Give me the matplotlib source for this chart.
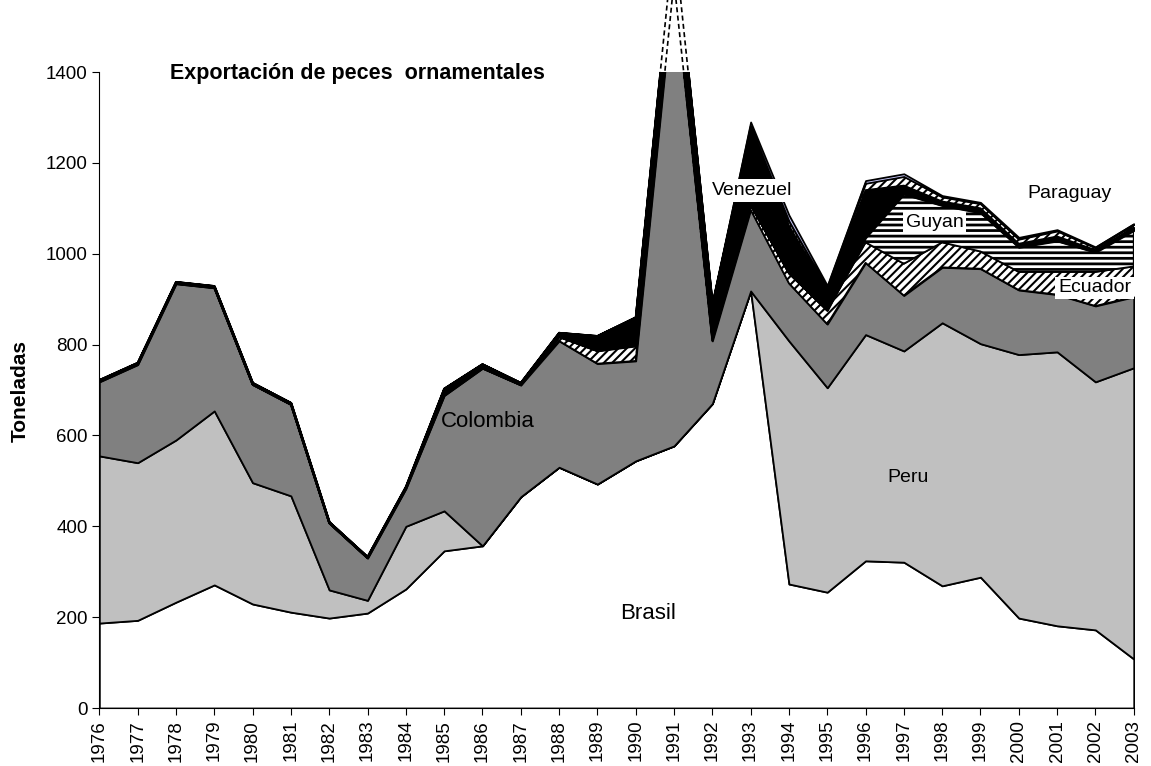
import numpy as np
import matplotlib.pyplot as plt

plt.rcParams['font.family'] = ['Liberation Sans', 'DejaVu Sans']
plt.rcParams['hatch.linewidth'] = 1.5

years = list(range(1976, 2004))

# toneladas por pais
brasil = [187, 193, 233, 271, 229, 211, 198, 209, 262, 346, 357, 465, 530, 493,
          544, 577, 670, 918, 273, 255, 324, 321, 269, 288, 198, 181, 172, 108]
peru = [368, 347, 357, 383, 267, 256, 62, 28, 138, 88, 0, 0, 0, 0,
        0, 0, 0, 0, 535, 450, 498, 465, 579, 514, 580, 603, 546, 641]
colombia = [163, 216, 344, 271, 216, 201, 147, 93, 83, 254, 391, 246, 278, 265,
            220, 1023, 138, 179, 127, 140, 158, 122, 122, 165, 142, 126, 167, 156]
ecuador = [0, 0, 0, 0, 0, 0, 0, 0, 0, 0, 0, 0, 9, 28,
           33, 10, 7, 10, 22, 30, 45, 70, 55, 38, 40, 50, 75, 67]
guyana = [0, 0, 0, 0, 0, 0, 0, 0, 0, 0, 0, 0, 0, 0,
          0, 0, 0, 0, 0, 0, 10, 153, 81, 85, 54, 68, 43, 79]
venezuela = [4, 4, 4, 4, 4, 4, 3, 3, 4, 15, 9, 5, 9, 33,
             63, 90, 73, 163, 105, 43, 105, 19, 9, 10, 8, 10, 5, 7]
otros = [0, 0, 0, 0, 0, 0, 0, 0, 0, 0, 0, 0, 0, 0,
         0, 0, 0, 10, 10, 6, 15, 20, 10, 10, 10, 12, 5, 6]
paraguay = [0, 0, 0, 0, 0, 0, 0, 0, 0, 0, 0, 0, 0, 0,
            0, 0, 2, 10, 13, 6, 6, 6, 3, 3, 4, 3, 2, 2]

series = [brasil, peru, colombia, ecuador, guyana, venezuela, otros, paraguay]
faces = ['white', '#c0c0c0', '#808080', 'white', 'white', 'black', 'white', '#ccccff']
hatches = [None, None, None, '////', '---', None, '////', None]
hatch_lw = [1, 1, 1, 1.5, 2.0, 1, 1.5, 1]

fig = plt.figure(figsize=(11.51, 7.66), dpi=100)
ax = fig.add_axes([0.0863, 0.0757, 0.8987, 0.8303])

x = np.array(years)
base = np.zeros(len(years))
tops = []
for vals, fc, h, hl in zip(series, faces, hatches, hatch_lw):
    top = base + np.array(vals)
    with plt.rc_context({'hatch.linewidth': hl}):
        poly = ax.fill_between(x, base, top, facecolor=fc, hatch=h,
                               edgecolor='black', linewidth=1.3)
    if hasattr(poly, 'set_hatch_linewidth'):
        poly.set_hatch_linewidth(hl)
    tops.append(top)
    base = top

# la punta de 1991 se sale del grafico: lineas punteadas fuera del area
seg = slice(14, 17)
for t in (tops[2], tops[-1]):
    ax.plot(x[seg], t[seg], color='black', lw=1.2, ls=(0, (3, 2)), clip_on=False)

ax.set_xlim(1976, 2003)
ax.set_ylim(0, 1400)
ax.set_xticks(years)
ax.set_xticklabels([str(y) for y in years], rotation=90, fontsize=13.5)
ax.set_yticks(range(0, 1401, 200))
ax.tick_params(axis='y', labelsize=13.5, direction='out', length=5)
ax.tick_params(axis='x', direction='out', length=5)
ax.spines['top'].set_visible(False)
ax.spines['right'].set_visible(False)

ax.text(1977.85, 1396, 'Exportación de peces  ornamentales', fontsize=15.5,
        fontweight='bold', va='center', ha='left')
fig.text(0.018, 0.49, 'Toneladas', rotation=90, fontsize=15, fontweight='bold',
         va='center', ha='center')

box = dict(facecolor='white', edgecolor='none', pad=2)
ax.text(1986.15, 630, 'Colombia', fontsize=16, ha='center', va='center')
ax.text(1990.33, 209, 'Brasil', fontsize=16, ha='center', va='center')
ax.text(1997.11, 507, 'Peru', fontsize=14, ha='center', va='center')
ax.text(1993.04, 1139, 'Venezuel', fontsize=14, ha='center', va='center', bbox=box)
ax.text(1997.8, 1068, 'Guyan', fontsize=14, ha='center', va='center', bbox=box)
ax.text(2001.98, 925, 'Ecuador', fontsize=14, ha='center', va='center', bbox=box)
ax.text(2001.33, 1132, 'Paraguay', fontsize=14, ha='center', va='center')

fig.savefig('out.png', dpi=100)
